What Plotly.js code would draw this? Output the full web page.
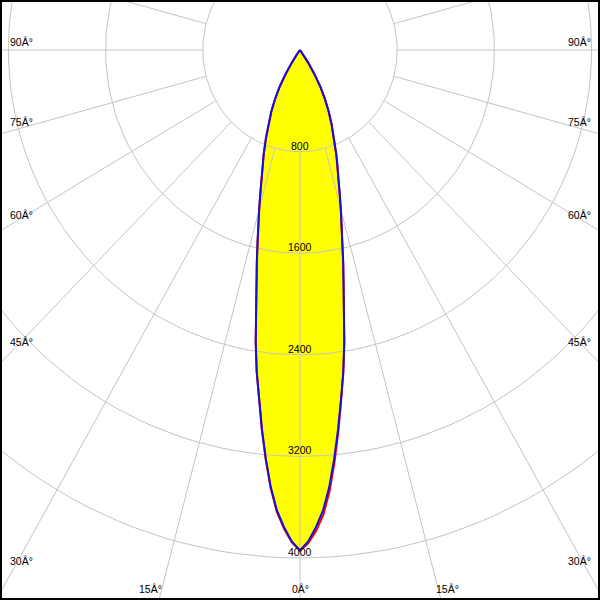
<!DOCTYPE html>
<html>
<head>
<meta charset="utf-8">
<script src="https://cdn.plot.ly/plotly-3.0.1.min.js"></script>
<style>html,body{margin:0;padding:0;background:#fff}#plot{width:600px;height:600px}</style>
</head>
<body>
<div id="plot"></div>
<script>
// ---- data (candela vs gamma angle) ----
const gamma = [0,1,2,3,4,5,6,7,8,9,10,11,12,13,14,15,16,17,18,19,20,22,24,26,28,30,32,34,36,38,40,45,60,75,90,120,150,180];
const iC0   = [3940,3870,3760,3630,3450,3230,3000,2770,2560,2330,2100,1880,1710,1555,1425,1300,1190,1100,1010,940,875,750,640,540,440,340,227,120,50,18,5,0,0,0,0,0,0,0];
const iC180 = [3940,3870,3760,3630,3450,3230,3000,2770,2560,2330,2100,1880,1710,1555,1425,1300,1190,1100,1010,940,875,750,640,540,440,340,227,120,50,18,5,0,0,0,0,0,0,0];
const iC90  = [3945,3885,3790,3665,3485,3260,3020,2780,2562,2330,2100,1880,1710,1550,1420,1295,1185,1095,1005,935,870,745,635,535,433,333,220,115,48,17,5,0,0,0,0,0,0,0];
const iC270 = [3942,3878,3772,3642,3460,3238,3005,2772,2560,2330,2100,1880,1708,1550,1420,1297,1187,1097,1007,937,872,747,637,536,435,334,221,116,48,17,5,0,0,0,0,0,0,0];
const ringValues = [800,1600,2400,3200,4000];
const ringLabels = ['800','1600','2400','3200','4000'];
const angleTicks = [0,15,30,45,60,75,90];
const angleLabels = ['0Â°','15Â°','30Â°','45Â°','60Â°','75Â°','90Â°'];

// ---- helpers ----
const rad = d => d*Math.PI/180;
function closedCurve(left, right){
  const xs=[], ys=[];
  for(let i=gamma.length-1;i>=0;i--){ xs.push(-left[i]*Math.sin(rad(gamma[i]))); ys.push(-left[i]*Math.cos(rad(gamma[i]))); }
  for(let i=1;i<gamma.length;i++){ xs.push(right[i]*Math.sin(rad(gamma[i]))); ys.push(-right[i]*Math.cos(rad(gamma[i]))); }
  return {xs, ys};
}
const blue = closedCurve(iC180, iC0);
const red  = closedCurve(iC270, iC90);

// grid circles
const cx=[], cy=[];
ringValues.forEach(r=>{ for(let a=0;a<=360;a+=2){ cx.push(r*Math.sin(rad(a))); cy.push(-r*Math.cos(rad(a))); } cx.push(null); cy.push(null); });
// radial spokes every 15 deg, from inner ring outward
const sx=[], sy=[];
const rIn = ringValues[0], rOut = 8000;
for(let a=0;a<360;a+=15){ sx.push(rIn*Math.sin(rad(a)), rOut*Math.sin(rad(a)), null); sy.push(-rIn*Math.cos(rad(a)), -rOut*Math.cos(rad(a)), null); }

const traces = [
  {x: blue.xs, y: blue.ys, mode:'lines', fill:'toself', fillcolor:'#ffff00', line:{width:0, color:'#ffff00'}, hoverinfo:'skip'},
  {x: cx, y: cy, mode:'lines', line:{color:'#c4c4c4', width:1}, hoverinfo:'skip'},
  {x: sx, y: sy, mode:'lines', line:{color:'#c4c4c4', width:1}, hoverinfo:'skip'},
  {x: red.xs, y: red.ys, mode:'lines', line:{color:'#ff0000', width:2}, hoverinfo:'skip'},
  {x: blue.xs, y: blue.ys, mode:'lines', line:{color:'#1010e0', width:2}, hoverinfo:'skip'}
];

// ---- scales (pixels per candela) ----
const kx = 0.1215, ky = 0.127;
const W = 600, H = 600, m = 2, cxPx = 300, cyPx = 50;
const xr = [-(cxPx-m)/kx, (W-m-cxPx)/kx];
const yr = [-(H-m-cyPx)/ky, (cyPx-m)/ky];

const font = {family:'Liberation Sans, Arial, sans-serif', size:10.5, color:'#000'};
const ann = [];
ringValues.forEach((r,i)=>{
  ann.push({x:0, y:-r, xref:'x', yref:'y', text:ringLabels[i], showarrow:false, xanchor:'center', yanchor:'bottom', yshift:-2, font});
});
const sideX = (cxPx-21)/kx;
const bottomY = -(589-cyPx)/ky;
const sideShift = {90:8.5, 75:6.5, 60:3, 45:0, 30:-6};
angleTicks.forEach((g,i)=>{
  if(g>=30){
    const y = g===90 ? 0 : -sideX/Math.tan(rad(g));
    [-1,1].forEach(s=>ann.push({x:s*sideX, y, xref:'x', yref:'y', text:angleLabels[i], showarrow:false, xanchor:'center', yanchor:'middle', yshift:sideShift[g], font}));
  } else if(g===0){
    ann.push({x:0, y:bottomY, xref:'x', yref:'y', text:angleLabels[i], showarrow:false, xanchor:'center', yanchor:'middle', font});
  } else {
    const xx = -bottomY*Math.tan(rad(g));
    ann.push({x:-xx, y:bottomY, xref:'x', yref:'y', text:angleLabels[i], showarrow:false, xanchor:'right', yanchor:'middle', xshift:2, font});
    ann.push({x:xx, y:bottomY, xref:'x', yref:'y', text:angleLabels[i], showarrow:false, xanchor:'left', yanchor:'middle', xshift:-4, font});
  }
});

const layout = {
  width:W, height:H, margin:{l:m,r:m,t:m,b:m,pad:0},
  paper_bgcolor:'#000', plot_bgcolor:'#fff', showlegend:false,
  xaxis:{range:xr, visible:false, fixedrange:true},
  yaxis:{range:yr, visible:false, fixedrange:true},
  annotations: ann
};
Plotly.newPlot('plot', traces, layout, {staticPlot:true, displayModeBar:false});
</script>
</body>
</html>
